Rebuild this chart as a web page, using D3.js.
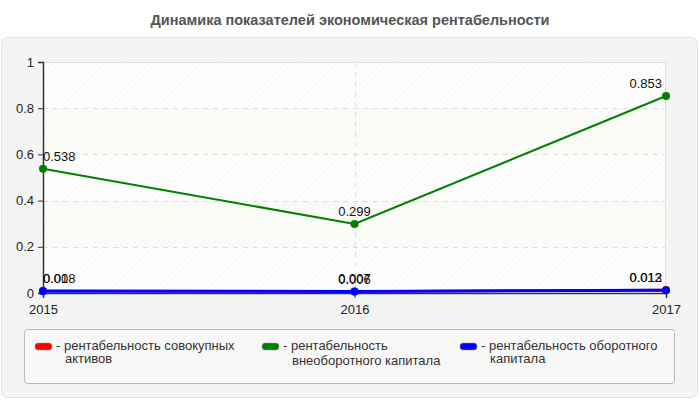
<!DOCTYPE html>
<html>
<head>
<meta charset="utf-8">
<script src="https://cdn.jsdelivr.net/npm/d3@7"></script>
<style>
  body { margin: 0; background: #fff; }
  svg { font-family: "Liberation Sans", Arial, sans-serif; }
</style>
</head>
<body>
<div id="chart"></div>
<script>
var svgWidth = 700;
var svgHeight = 400;

// data
var years = ["2015", "2016", "2017"];
var assetsValues = [0.01, 0.006, 0.013];
var fixedCapitalValues = [0.538, 0.299, 0.853];
var workingCapitalValues = [0.008, 0.007, 0.012];
var yTicks = [0, 0.2, 0.4, 0.6, 0.8, 1];

var seriesNames = [
  "рентабельность совокупных активов",
  "рентабельность внеоборотного капитала",
  "рентабельность оборотного капитала"
];
var seriesColors = ["#ff0000", "#008000", "#0000ff"];

var margin = { top: 62, left: 43, right: 34, bottom: 107 };
var width = svgWidth - margin.left - margin.right;
var height = svgHeight - margin.top - margin.bottom;

var svg = d3.select("#chart")
  .append("svg")
  .attr("width", svgWidth)
  .attr("height", svgHeight);

// hatch pattern for plot background
var defs = svg.append("defs");
var hatch = defs.append("pattern")
  .attr("id", "hatch")
  .attr("patternUnits", "userSpaceOnUse")
  .attr("width", 4)
  .attr("height", 4)
  .attr("patternTransform", "rotate(45)");
hatch.append("line")
  .attr("x1", 0).attr("y1", 0)
  .attr("x2", 0).attr("y2", 4)
  .attr("stroke", "#f0f0f0")
  .attr("stroke-width", 1);

// title
svg.append("text")
  .attr("x", 350)
  .attr("y", 25)
  .attr("text-anchor", "middle")
  .attr("font-size", "14.5px")
  .attr("font-weight", "bold")
  .attr("fill", "#555")
  .text("Динамика показателей экономическая рентабельности");

// outer panel
svg.append("rect")
  .attr("x", 1.5)
  .attr("y", 37.5)
  .attr("width", 696)
  .attr("height", 360)
  .attr("rx", 6)
  .attr("fill", "#f4f4f4")
  .attr("stroke", "#e2e2e2");

var chartGroup = svg.append("g")
  .attr("transform", `translate(${margin.left}, ${margin.top})`);

var xScale = d3.scalePoint()
  .domain(years)
  .range([0, width]);

var yScale = d3.scaleLinear()
  .domain([0, 1])
  .range([height, 0]);

// plot background + alternating bands
chartGroup.append("rect")
  .attr("width", width)
  .attr("height", height)
  .attr("fill", "#fff");

var bands = [[0.2, 0.4], [0.6, 0.8]];
chartGroup.selectAll(".band")
  .data(bands)
  .enter()
  .append("rect")
  .attr("class", "band")
  .attr("x", 0)
  .attr("y", d => yScale(d[1]))
  .attr("width", width)
  .attr("height", d => yScale(d[0]) - yScale(d[1]))
  .attr("fill", "#fcfdf7");

chartGroup.append("rect")
  .attr("width", width)
  .attr("height", height)
  .attr("fill", "url(#hatch)");

// grid lines
chartGroup.selectAll(".hgrid")
  .data(yTicks.filter(d => d > 0 && d < 1))
  .enter()
  .append("line")
  .attr("x1", 0)
  .attr("x2", width)
  .attr("y1", d => Math.round(yScale(d)) + 0.5)
  .attr("y2", d => Math.round(yScale(d)) + 0.5)
  .attr("stroke", "#dcdcdc")
  .attr("stroke-dasharray", "5,5");

chartGroup.append("line")
  .attr("x1", Math.round(xScale("2016")) + 0.5)
  .attr("x2", Math.round(xScale("2016")) + 0.5)
  .attr("y1", 0)
  .attr("y2", height)
  .attr("stroke", "#dcdcdc")
  .attr("stroke-dasharray", "5,5");

// top and right frame
chartGroup.append("path")
  .attr("d", `M0,0.5H${width - 0.5}V${height}`)
  .attr("fill", "none")
  .attr("stroke", "#e0e0e0");

// axes
var leftAxis = d3.axisLeft(yScale)
  .tickValues(yTicks)
  .tickSize(5)
  .tickPadding(4)
  .tickFormat(d3.format("~g"));

var bottomAxis = d3.axisBottom(xScale)
  .tickSize(5)
  .tickPadding(5);

var yAxis = chartGroup.append("g")
  .call(leftAxis);

var xAxis = chartGroup.append("g")
  .attr("transform", `translate(0, ${height})`)
  .call(bottomAxis);

[yAxis, xAxis].forEach(function (ax) {
  ax.select(".domain").attr("stroke", "#333").attr("stroke-width", 1.5);
  ax.selectAll(".tick line").attr("stroke", "#333");
  ax.selectAll(".tick text")
    .attr("font-size", "13px")
    .attr("fill", "#222")
    .attr("font-family", "'Liberation Sans', Arial, sans-serif");
});
xAxis.selectAll(".tick text").attr("dy", "0.85em");

// series
var allSeries = [
  { name: seriesNames[0], color: seriesColors[0], values: assetsValues, lw: 2.5 },
  { name: seriesNames[1], color: seriesColors[1], values: fixedCapitalValues, lw: 2 },
  { name: seriesNames[2], color: seriesColors[2], values: workingCapitalValues, lw: 3 }
];

var line = d3.line()
  .x((d, i) => xScale(years[i]))
  .y(d => yScale(d));

allSeries.forEach(function (s) {
  chartGroup.append("path")
    .datum(s.values)
    .attr("d", line)
    .attr("fill", "none")
    .attr("stroke", s.color)
    .attr("stroke-width", s.lw);

  chartGroup.selectAll(null)
    .data(s.values)
    .enter()
    .append("circle")
    .attr("cx", (d, i) => xScale(years[i]))
    .attr("cy", d => yScale(d))
    .attr("r", 4)
    .attr("fill", s.color);
});

// data labels, kept inside plot
allSeries.forEach(function (s) {
  s.values.forEach(function (v, i) {
    var t = chartGroup.append("text")
      .attr("font-size", "13px")
      .attr("fill", "#111")
      .attr("y", yScale(v) - 8)
      .text(String(v));
    var w = t.node().getComputedTextLength();
    var cx = xScale(years[i]) - w / 2;
    cx = Math.max(0, Math.min(width - w - 4, cx));
    t.attr("x", cx);
  });
});

// legend
var legend = svg.append("g");
legend.append("rect")
  .attr("x", 24.5)
  .attr("y", 329.5)
  .attr("width", 650)
  .attr("height", 54)
  .attr("rx", 3)
  .attr("fill", "#f8f8f8")
  .attr("stroke", "#b8b8b8");

var legendItems = [
  { x: 35, lines: ["рентабельность совокупных", "активов"], gap: 13 },
  { x: 262, lines: ["рентабельность", "внеоборотного капитала"], gap: 15 },
  { x: 460, lines: ["рентабельность оборотного", "капитала"], gap: 13 }
];

legendItems.forEach(function (item, i) {
  legend.append("rect")
    .attr("x", item.x)
    .attr("y", 343)
    .attr("width", 17)
    .attr("height", 7)
    .attr("rx", 3)
    .attr("fill", seriesColors[i])
    .attr("stroke", "#999")
    .attr("stroke-width", 0.5);
  var txt = legend.append("text")
    .attr("x", item.x + 21)
    .attr("y", 350)
    .attr("font-size", "13px")
    .attr("fill", "#333");
  txt.append("tspan").text("- " + item.lines[0]);
  txt.append("tspan")
    .attr("x", item.x + 30)
    .attr("dy", item.gap)
    .text(item.lines[1]);
});
</script>
</body>
</html>
